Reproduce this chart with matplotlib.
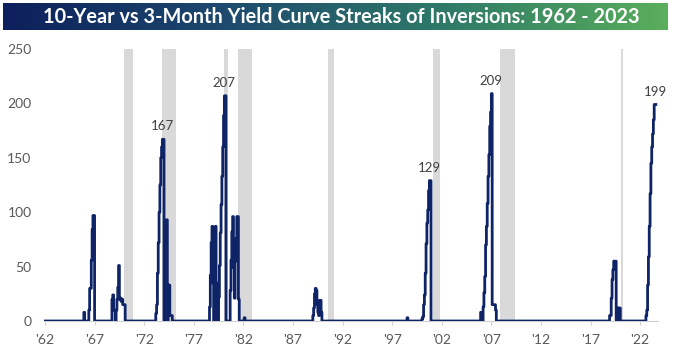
import numpy as np
import pandas as pd
import matplotlib
matplotlib.use("Agg")
import matplotlib.pyplot as plt
from matplotlib.colors import LinearSegmentedColormap

# ---- data (monthly streak of inversion days, only non-zero months listed) ----
streak_months = [
    "1965-12",
    "1966-06", "1966-07", "1966-08", "1966-09", "1966-10", "1966-11", "1966-12",
    "1968-10", "1968-11", "1968-12", "1969-01", "1969-03", "1969-04", "1969-05",
    "1969-06", "1969-07", "1969-08", "1969-09", "1969-10", "1969-11", "1969-12", "1970-01",
    "1973-03", "1973-04", "1973-05", "1973-06", "1973-07", "1973-08", "1973-09",
    "1973-10", "1973-11", "1973-12",
    "1974-02", "1974-03", "1974-04", "1974-06", "1974-07", "1974-08", "1974-09", "1974-10",
    "1978-08", "1978-09", "1978-10", "1978-11", "1978-12", "1979-02", "1979-03", "1979-04",
    "1979-07", "1979-08", "1979-09", "1979-10", "1979-11", "1979-12", "1980-01",
    "1980-02", "1980-03",
    "1980-09", "1980-10", "1980-11", "1980-12", "1981-01", "1981-02", "1981-03",
    "1981-04", "1981-05", "1981-06", "1981-07",
    "1982-02",
    "1989-01", "1989-02", "1989-03", "1989-04", "1989-05", "1989-06", "1989-07",
    "1989-08", "1989-09", "1989-10", "1989-11",
    "1998-07",
    "2000-01", "2000-02", "2000-03", "2000-04", "2000-05", "2000-06", "2000-07",
    "2000-08", "2000-09", "2000-10", "2000-11",
    "2005-12",
    "2006-03", "2006-04", "2006-05", "2006-06", "2006-07", "2006-08", "2006-09",
    "2006-10", "2006-11", "2006-12", "2007-01", "2007-02", "2007-03", "2007-04",
    "2007-05", "2007-06",
    "2018-12", "2019-01", "2019-02", "2019-03", "2019-04", "2019-05", "2019-06",
    "2019-07", "2019-10", "2019-11", "2019-12",
    "2022-08", "2022-09", "2022-10", "2022-11", "2022-12", "2023-01",
    "2023-02", "2023-03", "2023-04", "2023-05", "2023-06", "2023-07", "2023-08",
]
streak_values = [
    8,
    10, 30, 30, 56, 84, 97, 97,
    20, 24, 10, 10, 10, 20, 31,
    51, 20, 21, 18, 20, 15, 15, 15,
    7, 15, 44, 72, 100, 125, 150,
    160, 167, 167,
    30, 60, 93, 33, 33, 5, 5, 5,
    13, 42, 72, 87, 35, 70, 87, 35,
    22, 51, 81, 107, 133, 160, 189,
    207, 207,
    28, 56, 82, 96, 49, 21, 55,
    76, 96, 96, 20,
    3,
    5, 12, 25, 30, 28, 15, 8,
    5, 19, 19, 8,
    3,
    2, 4, 15, 24, 44, 71, 90,
    102, 120, 129, 129,
    8,
    13, 26, 41, 70, 87, 108, 133,
    153, 179, 192, 209, 15, 15, 15,
    15, 10,
    5, 5, 21, 38, 47, 55, 55,
    55, 12, 12, 12,
    5, 10, 33, 59, 87, 117,
    145, 160, 172, 185, 199, 199, 199,
]

recession_starts = ["1969-12", "1973-11", "1980-01", "1981-07", "1990-07", "2001-03", "2007-12", "2020-02"]
recession_ends   = ["1970-11", "1975-03", "1980-07", "1982-11", "1991-03", "2001-11", "2009-06", "2020-04"]

peak_labels = ["167", "207", "129", "209", "199"]
peak_months = ["1973-11", "1980-02", "2000-10", "2007-01", "2023-07"]
peak_values = [167, 207, 129, 209, 199]

tick_years = list(range(1962, 2023, 5))
tick_labels = ["'" + str(y)[2:] for y in tick_years]

title = "10-Year vs 3-Month Yield Curve Streaks of Inversions: 1962 - 2023"

# ---- build full monthly series ----
def to_x(m):
    p = pd.Period(m, freq="M")
    return p.year + (p.month - 1) / 12.0

idx = pd.period_range("1962-01", "2023-08", freq="M")
series = pd.Series(0.0, index=idx)
for m, v in zip(streak_months, streak_values):
    series[pd.Period(m, freq="M")] = v
xs = np.array([p.year + (p.month - 1) / 12.0 for p in series.index])
ys = series.values

plt.rcParams['font.family'] = ['Lato', 'DejaVu Sans']

W, H = 680, 351
fig = plt.figure(figsize=(W / 100, H / 100), dpi=100)
fig.patch.set_facecolor("white")

# banner
bax = fig.add_axes([3 / W, 1 - 30 / H, 665 / W, 27 / H])
cmap = LinearSegmentedColormap.from_list("ban", ["#0d1f5c", "#1d4a6e", "#2f7a68", "#5aae5b"])
grad = np.linspace(0, 1, 256).reshape(1, -1)
bax.imshow(grad, aspect="auto", cmap=cmap, extent=[0, 1, 0, 1])
bax.set_axis_off()
bax.text(0.508, 0.47, title, color="white", fontsize=14.3, fontweight="bold",
         ha="center", va="center", transform=bax.transAxes)

# main axes
left, right, bottom, top = 44, 658, 321, 49
ax = fig.add_axes([left / W, (H - bottom) / H, (right - left) / W, (bottom - top) / H])
ax.set_xlim(1961.9, 2023.8)
ax.set_ylim(0, 250)

for s, e in zip(recession_starts, recession_ends):
    ax.axvspan(to_x(s), to_x(e), color="#d9d9d9", lw=0, zorder=0)

ax.plot(xs, ys, color="#0e2466", lw=2.0, zorder=3, drawstyle="steps-post")

for lab, m, v in zip(peak_labels, peak_months, peak_values):
    ax.annotate(lab, (to_x(m), v), xytext=(0, 5), textcoords="offset points",
                ha="center", va="bottom", fontsize=9.5, color="#404040")

ax.set_yticks([0, 50, 100, 150, 200, 250])
ax.set_xticks(tick_years)
ax.set_xticklabels(tick_labels)
ax.tick_params(axis="y", length=0, pad=9, labelsize=10, labelcolor="#595959")
ax.tick_params(axis="x", length=3, color="#d0d0d0", pad=6, labelsize=10, labelcolor="#595959")
for sp in ["top", "right", "left"]:
    ax.spines[sp].set_visible(False)
ax.spines["bottom"].set_color("#d0d0d0")
ax.spines["bottom"].set_zorder(1)

fig.savefig("out.png", dpi=100, facecolor="white")
